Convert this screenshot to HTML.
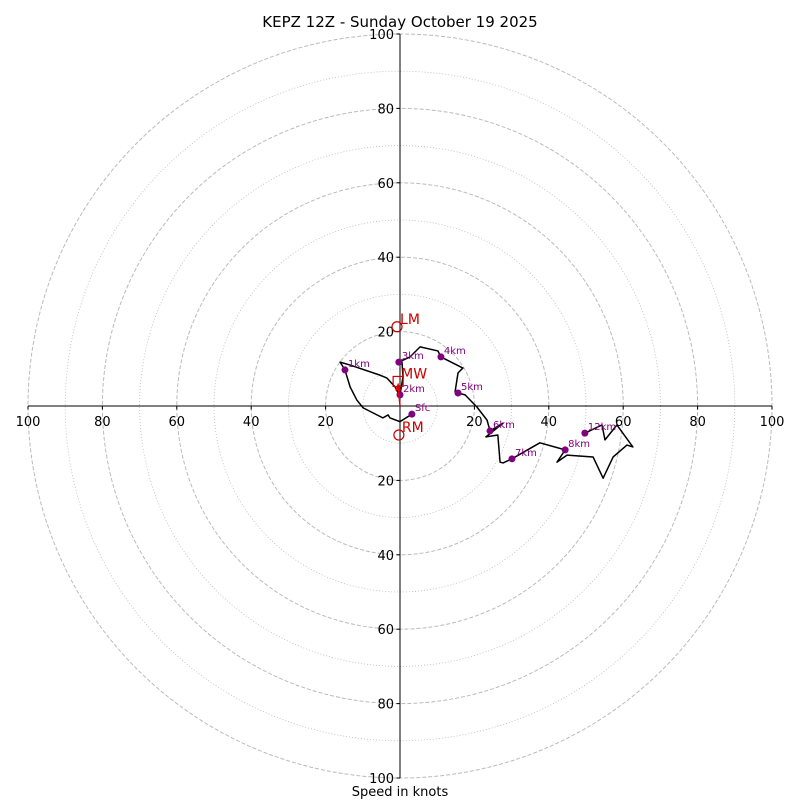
<!DOCTYPE html>
<html><head><meta charset="utf-8"><style>
html,body{margin:0;padding:0;background:#fff;}
svg{display:block;font-family:"DejaVu Sans","Liberation Sans",sans-serif;}
</style></head><body>
<svg id="chart" width="800" height="800" viewBox="0 0 800 800">
<text x="400" y="27" text-anchor="middle" font-size="15">KEPZ 12Z - Sunday October 19 2025</text>
<g id="rings"></g>
<g id="axes"></g>
<g id="trace"></g>
<g id="motion"></g>
<text x="400" y="796" text-anchor="middle" font-size="13">Speed in knots</text>
</svg>
<script>
const ringSpeeds=[10,20,30,40,50,60,70,80,90,100];
const tickLabels=[100,80,60,40,20,20,40,60,80,100];
const tickValues=[-100,-80,-60,-40,-20,20,40,60,80,100];
const windU=[3.2,0,-2.7,-3.2,-4.6,-9.9,-11.6,-13.4,-14.8,-16.1,-13.4,-5.4,-3.5,-1.3,-0.5,0,0.8,0.5,-0.3,2.7,5.4,10.2,11.0,16.9,15.6,14.8,15.6,17.5,20.7,23.4,24.2,27.7,23.1,26.3,26.9,27.7,30.1,37.6,44.4,42.2,44.9,51.9,54.6,57.3,61.0,62.6,58.3,55.1,54.3,49.7];
const windV=[-2.2,-4.2,-3.2,-2.4,-3.2,-0.5,1.6,5.1,9.7,11.8,11.0,8.3,7.5,5.1,3.5,3.0,7.8,12.4,11.8,13.2,15.9,14.8,13.2,10.2,8.9,3.8,3.5,3.0,-0.3,-3.8,-6.7,-4.6,-8.3,-7.8,-15.1,-15.3,-14.2,-9.9,-11.8,-15.1,-13.2,-13.7,-19.4,-13.7,-10.5,-11.0,-5.1,-9.1,-5.1,-7.3];
const markerLabels=["Sfc","1km","2km","3km","4km","5km","6km","7km","8km","12km"];
const markerIndex=[0,8,15,18,22,26,30,36,38,49];
const motionNames=["LM","MW","RM"];
const motionU=[-0.8,-0.5,-0.3];
const motionV=[21.3,6.6,-7.8];
const NS="http://www.w3.org/2000/svg";
const cx=400,cy=406,k=3.72;
const X=u=>cx+u*k, Y=v=>cy-v*k;
function mk(t,a,p){const e=document.createElementNS(NS,t);for(const key in a)e.setAttribute(key,a[key]);p.appendChild(e);return e;}
const rings=document.getElementById('rings');
ringSpeeds.forEach(s=>{
 const c=mk('circle',{cx:cx,cy:cy,r:s*k,fill:'none',stroke:'#bbb','stroke-width':s%20?0.8:1,'stroke-dasharray':s%20?'1,2':'4,2'},rings);
 
 
});
const axes=document.getElementById('axes');
mk('line',{x1:X(-100),y1:cy,x2:X(100),y2:cy,stroke:'#000','stroke-width':1},axes);
mk('line',{x1:cx,y1:Y(100),x2:cx,y2:Y(-100),stroke:'#000','stroke-width':1},axes);
tickValues.forEach((v,i)=>{
 mk('line',{x1:X(v),y1:cy,x2:X(v),y2:cy+3.5,stroke:'#000'},axes);
 const t=mk('text',{x:X(v),y:cy+20,'text-anchor':'middle','font-size':13},axes);t.textContent=tickLabels[i];
 
 
 mk('line',{x1:cx-3.5,y1:Y(v),x2:cx,y2:Y(v),stroke:'#000'},axes);
 const t2=mk('text',{x:cx-6,y:Y(v)+5,'text-anchor':'end','font-size':13},axes);t2.textContent=tickLabels[i];
 
 
});
const tr=document.getElementById('trace');
const pl=mk('polyline',{points:windU.map((u,i)=>X(u)+','+Y(windV[i])).join(' '),fill:'none',stroke:'#000','stroke-width':1.5,'stroke-linejoin':'round'},tr);


markerIndex.forEach((idx,i)=>{
 const x=X(windU[idx]),y=Y(windV[idx]);
 const d=mk('circle',{cx:x,cy:y,r:3.5,fill:'#800080'},tr);
 
 
 const t=mk('text',{x:x+3,y:y-3,'font-size':10,fill:'#800080'},tr);t.textContent=markerLabels[i];
 
 
});
const mo=document.getElementById('motion');
const ar=mk('line',{x1:cx,y1:cy,x2:X(motionU[1]),y2:Y(motionV[1])+4,stroke:'#e00','stroke-width':1.5},mo);


mk('polygon',{points:(X(motionU[1])-3)+','+(Y(motionV[1])+9)+' '+(X(motionU[1])+3)+','+(Y(motionV[1])+9)+' '+X(motionU[1])+','+(Y(motionV[1])+1),fill:'#e00'},mo);
motionNames.forEach((n,i)=>{
 const x=X(motionU[i]),y=Y(motionV[i]);
 let m;
 if(n==='MW') m=mk('rect',{x:x-5,y:y-5,width:10,height:10,fill:'none',stroke:'#c00','stroke-width':1.2},mo);
 else m=mk('circle',{cx:x,cy:y,r:5,fill:'none',stroke:'#c00','stroke-width':1.2},mo);
 
 
 const t=mk('text',{x:x+3,y:y-3,'font-size':14,fill:'#c00'},mo);t.textContent=n;
 
 
});
</script>
</body></html>
